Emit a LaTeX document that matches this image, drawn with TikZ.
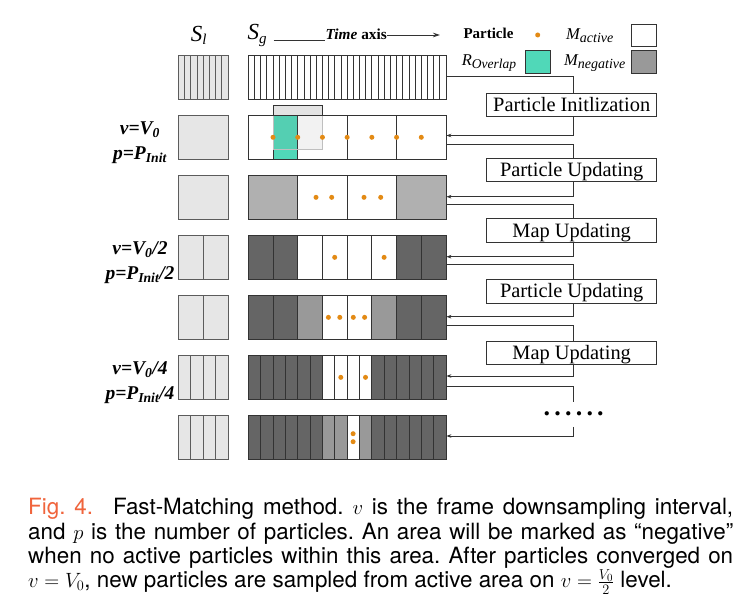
\documentclass[tikz,border=0pt]{standalone}
\usepackage[no-math]{fontspec}
\setmainfont{Liberation Serif}
\newfontfamily\capfont{TeX Gyre Heros}
\usetikzlibrary{arrows.meta}
\definecolor{linec}{HTML}{333333}
\definecolor{slfill}{HTML}{E6E6E6}
\definecolor{cw}{HTML}{FFFFFF}
\definecolor{cl}{HTML}{B0B0B0}
\definecolor{cm}{HTML}{999999}
\definecolor{cd}{HTML}{656565}
\definecolor{tealc}{HTML}{50D8B8}
\definecolor{porange}{HTML}{E38A14}
\definecolor{figred}{HTML}{F0643C}
\definecolor{ovfill}{HTML}{E3E3E3}
\newcommand\myfs[1]{\fontsize{#1}{#1}\selectfont}
\newcommand\gcells[3]{%
  \foreach \c [count=\i from 0] in {#3} {%
    \pgfmathsetmacro\xa{248.3+197.7*\i/#2}%
    \pgfmathsetmacro\xb{248.3+197.7*(\i+1)/#2}%
    \filldraw[fill=\c, draw=linec, line width=0.8bp] (\xa,#1) rectangle (\xb,#1+43.3);
  }}
\newcommand\lcells[2]{%
  \foreach \i in {1,...,#2} {%
    \pgfmathsetmacro\xa{178.3+49.7*(\i-1)/#2}%
    \pgfmathsetmacro\xb{178.3+49.7*\i/#2}%
    \filldraw[fill=slfill, draw=linec!80, line width=0.8bp] (\xa,#1) rectangle (\xb,#1+43.3);
  }}
\newcommand\pdot[2]{\fill[porange] (#1,#2) circle (2.5);}
\tikzset{
  rowbox/.style={draw=linec, line width=0.8bp, minimum width=197.7bp, minimum height=43.3bp, inner sep=0pt},
  lbox/.style={draw=linec!80, line width=0.8bp, minimum width=49.7bp, minimum height=43.3bp, inner sep=0pt},
  opbox/.style={draw=linec, line width=0.8bp, fill=white, minimum width=170bp, minimum height=23.4bp,
    inner sep=0pt, text height=13.5bp, text depth=0.5bp, font=\myfs{20.4bp}},
  conn/.style={draw=linec, line width=0.8bp},
  arr/.style={conn, -{Stealth[length=5bp,width=3.6bp]}},
  lab/.style={anchor=base, inner sep=0pt, font=\myfs{19.5bp}\bfseries\itshape},
  legtxt/.style={anchor=base west, inner sep=0pt},
  capline/.style={anchor=base west, inner sep=0pt, font=\capfont\myfs{22.4bp}\frenchspacing},
}
\begin{document}
\begin{tikzpicture}[x=1bp,y=-1bp]
\fill[white] (0,0) rectangle (749,611);
\useasboundingbox (0,0) rectangle (749,611);

% headers
\node[legtxt] (sl) at (190.7,41.7) {\myfs{23bp}\itshape S\raisebox{-2.5bp}{\myfs{15bp}l}};
\node[legtxt] (sg) at (247.3,40) {\myfs{23bp}\itshape S\raisebox{-4bp}{\myfs{15bp}g}};
\node[legtxt] (tx) at (325.5,40) {\myfs{15.3bp}\textbf{\textit{Time}} \textbf{axis}};
\coordinate (taxend) at (440,35);
\draw[conn] ([xshift=7bp]sg.east |- 0,40.5) -- ([xshift=-0.5bp]tx.west |- 0,40.5);
\draw[conn, -{Stealth[length=7bp,width=4.5bp]}] ([xshift=0.5bp]tx.east |- 0,35) -- (taxend);

% legend
\node[legtxt] (lp) at (463.3,38.3) {\myfs{15bp}\bfseries Particle};
\fill[porange] (537.7,35) circle (2.5);
\node[legtxt] (lma) at (566,39.3) {\myfs{16.5bp}\itshape M\raisebox{-3bp}{\myfs{14bp}active}};
\node[draw=linec, line width=0.8bp, fill=white, minimum width=25bp, minimum height=22.7bp, inner sep=0pt] (kw) at (643.5,35.35) {};
\node[legtxt] (lro) at (461.7,66) {\myfs{16.5bp}\itshape R\raisebox{-3bp}{\myfs{13.5bp}Overlap}};
\node[draw=linec, line width=0.8bp, fill=tealc, minimum width=25bp, minimum height=23.3bp, inner sep=0pt] (kt) at (537.5,61.65) {};
\node[legtxt] (lmn) at (564,65.5) {\myfs{16.5bp}\itshape M\raisebox{-3bp}{\myfs{14bp}negative}};
\node[draw=linec, line width=0.8bp, fill=cm, minimum width=25bp, minimum height=22.6bp, inner sep=0pt] (kg) at (643.5,62) {};

% S_l column
\lcells{55.7}{8}
\lcells{115.7}{1}
\lcells{175.7}{1}
\lcells{235.7}{2}
\lcells{295.7}{2}
\lcells{355.7}{4}
\lcells{415.7}{4}
\foreach \k in {1,...,7} {
  \pgfmathsetmacro\yc{55.7+60*(\k-1)+21.65}
  \node[lbox] (l\k) at (203.15,\yc) {};
}

% S_g rows
\gcells{55.7}{32}{cw,cw,cw,cw,cw,cw,cw,cw,cw,cw,cw,cw,cw,cw,cw,cw,cw,cw,cw,cw,cw,cw,cw,cw,cw,cw,cw,cw,cw,cw,cw,cw}
\gcells{115.7}{4}{cw,cw,cw,cw}
% overlap region
\fill[ovfill] (273.3,105.7) rectangle (322.3,115.7);
\draw[linec, line width=0.8bp] (273.3,115.7) -- (273.3,105.7) -- (322.3,105.7) -- (322.3,115.7);
\filldraw[fill=tealc, draw=linec, line width=0.8bp] (273.3,115.7) rectangle (297.7,159);
\filldraw[fill=gray, fill opacity=0.1, draw=gray!50, line width=0.8bp] (273.3,115.7) rectangle (322.3,149);
\gcells{175.7}{4}{cl,cw,cw,cl}
\gcells{235.7}{8}{cd,cd,cw,cw,cw,cw,cd,cd}
\gcells{295.7}{8}{cd,cd,cm,cw,cw,cm,cd,cd}
\gcells{355.7}{16}{cd,cd,cd,cd,cd,cd,cw,cw,cw,cw,cd,cd,cd,cd,cd,cd}
\gcells{415.7}{16}{cd,cd,cd,cd,cd,cd,cm,cm,cw,cm,cd,cd,cd,cd,cd,cd}
\foreach \k in {1,...,7} {
  \pgfmathsetmacro\yc{55.7+60*(\k-1)+21.65}
  \node[rowbox] (g\k) at (347.15,\yc) {};
}

% particles
\foreach \k in {1,...,7} { \pdot{248.3+24.7125*\k}{137.3} }
\foreach \x in {316,331.7,364,380.7} { \pdot{\x}{197.35} }
\foreach \x in {334.7,384.1} { \pdot{\x}{257.35} }
\foreach \x in {328.4,339.8,353.3,364.6} { \pdot{\x}{317.35} }
\foreach \x in {340.8,365.5} { \pdot{\x}{377.35} }
\pdot{353.1}{433.7}
\pdot{353.1}{441.7}

% row labels
\node[lab] (v1) at (140,134.3) {v=V\textsubscript{0}};
\node[lab] (p1) at (140,159.3) {p=P\textsubscript{Init}};
\node[lab] (v2) at (140,254.3) {v=V\textsubscript{0}/2};
\node[lab] (p2) at (140,279.3) {p=P\textsubscript{Init}/2};
\node[lab] (v3) at (140,374.3) {v=V\textsubscript{0}/4};
\node[lab] (p3) at (140,399.3) {p=P\textsubscript{Init}/4};

% operation boxes
\node[opbox] (b1) at (571.7,105) {Particle Initlization};
\node[opbox] (b2) at (571.7,169.65) {Particle Updating};
\node[opbox] (b3) at (571.7,230.5) {Map Updating};
\node[opbox] (b4) at (571.7,291.35) {Particle Updating};
\node[opbox] (b5) at (571.7,353) {Map Updating};
\node[inner sep=0pt, minimum height=25bp, font=\myfs{26bp}\bfseries] (dots) at (573.7,414.2)
  {.\kern4.2bp.\kern4.2bp.\kern4.2bp.\kern4.2bp.\kern4.2bp.};

% connectors
\draw[conn] (g1.east |- 0,76.7) -| ([xshift=2bp]b1.north);
\draw[arr] ([xshift=2bp]b1.south) |- (g2.east |- 0,135.5);
\draw[conn] (g2.east |- 0,144.3) -| ([xshift=2bp]b2.north);
\draw[arr] ([xshift=2bp]b2.south) |- (g3.east |- 0,196.7);
\draw[conn] (g3.east |- 0,204.3) -| ([xshift=2bp]b3.north);
\draw[arr] ([xshift=2bp]b3.south) |- (g4.east |- 0,256.7);
\draw[conn] (g4.east |- 0,264) -| ([xshift=2bp]b4.north);
\draw[arr] ([xshift=2bp]b4.south) |- (g5.east |- 0,316.7);
\draw[conn] (g5.east |- 0,325) -| ([xshift=2bp]b5.north);
\draw[arr] ([xshift=2bp]b5.south) |- (g6.east |- 0,376);
\draw[conn] (g6.east |- 0,386) -| (dots.north);
\draw[arr] (dots.south) |- (g7.east |- 0,436);

% caption
\node[capline] (c1) at (28,514.3) {\makebox[705bp][s]{\textcolor{figred}{Fig. 4.}\hspace{20bp}Fast-Matching method. $v$ is the frame downsampling interval,}};
\node[capline] (c2) at (28,539.3) {\makebox[705bp][s]{and $p$ is the number of particles. An area will be marked as “negative”}};
\node[capline] (c3) at (28,563.3) {\makebox[705bp][s]{when no active particles within this area. After particles converged on}};
\node[capline] (c4) at (28,587.3) {$v=V_0$, new particles are sampled from active area on $v=\frac{V_0}{2}$ level.};
\end{tikzpicture}
\end{document}
